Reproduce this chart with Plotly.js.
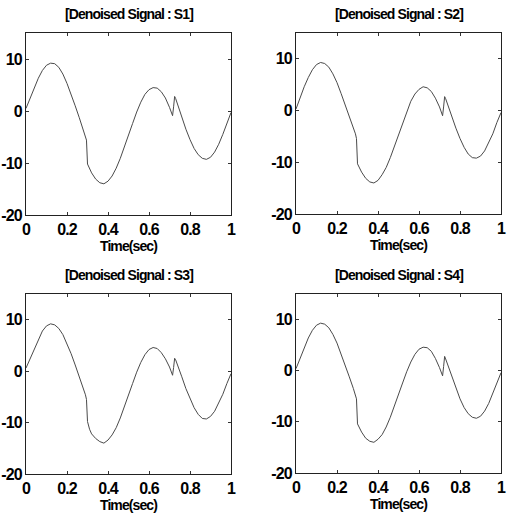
<!DOCTYPE html>
<html><head><meta charset="utf-8">
<script src="https://cdn.plot.ly/plotly-3.0.1.min.js"></script>
<style>html,body{margin:0;padding:0;background:#fff;}#plot{width:507px;height:517px;}
#plot svg text{letter-spacing:-0.9px;}</style>
</head><body><div id="plot"></div>
<script>
// Time samples (sec)
const t = [0,0.02,0.04,0.06,0.08,0.10,0.12,0.14,0.16,0.18,0.20,0.22,0.24,0.26,0.28,0.29,0.295,0.30,0.31,0.32,0.34,0.36,0.38,0.40,0.42,0.44,0.46,0.48,0.50,0.52,0.54,0.56,0.58,0.60,0.62,0.64,0.66,0.68,0.70,0.71,0.715,0.72,0.725,0.73,0.74,0.76,0.78,0.80,0.82,0.84,0.86,0.88,0.90,0.92,0.94,0.96,0.98,1.00];
// Denoised signals
const s1 = [0.5,2.4,4.5,6.3,7.8,8.8,9.2,9.1,8.4,7.1,5.3,3.3,1.0,-1.3,-3.6,-4.7,-5.6,-10.2,-11.0,-11.9,-13.1,-13.8,-14.0,-13.5,-12.5,-11.0,-9.1,-7.0,-4.7,-2.4,-0.2,1.7,3.2,4.1,4.5,4.4,3.7,2.5,0.7,-0.3,-0.9,0.8,2.8,2.4,1.2,-1.2,-3.5,-5.5,-7.2,-8.4,-9.1,-9.3,-8.9,-7.9,-6.4,-4.5,-2.4,-0.3];
const s2 = [0.3,2.5,4.6,6.4,7.9,8.9,9.3,9.1,8.4,7.1,5.4,3.3,1.1,-1.2,-3.4,-4.5,-5.4,-10.3,-11.1,-11.9,-13.1,-13.8,-14.0,-13.5,-12.4,-11.0,-9.1,-6.9,-4.6,-2.3,-0.1,1.8,3.2,4.1,4.6,4.4,3.7,2.4,0.7,-0.4,-1.0,0.7,2.7,2.3,1.1,-1.2,-3.4,-5.4,-7.1,-8.4,-9.1,-9.2,-8.8,-7.8,-6.3,-4.5,-2.3,-0.4];
const s3 = [0.6,2.4,4.5,6.3,7.8,8.8,9.2,9.0,8.3,7.1,5.4,3.4,1.2,-1.1,-3.3,-4.6,-5.5,-9.8,-11.3,-12.2,-13.1,-13.7,-14.0,-13.4,-12.4,-11.0,-9.1,-7.0,-4.7,-2.4,-0.2,1.7,3.2,4.2,4.6,4.4,3.6,2.4,0.8,-0.2,-0.8,0.7,2.5,2.2,1.2,-1.1,-3.4,-5.4,-7.1,-8.4,-9.2,-9.3,-8.8,-7.8,-6.3,-4.5,-2.4,-0.5];
const s4 = [0.4,2.5,4.6,6.4,7.9,8.9,9.3,9.1,8.4,7.1,5.4,3.3,1.1,-1.2,-3.5,-4.6,-5.5,-10.4,-11.2,-12.0,-13.2,-13.8,-14.0,-13.4,-12.5,-11.0,-9.1,-7.0,-4.7,-2.4,-0.2,1.7,3.2,4.2,4.6,4.5,3.8,2.4,0.6,-0.4,-1.0,0.8,2.8,2.3,1.2,-1.2,-3.4,-5.5,-7.2,-8.4,-9.1,-9.3,-8.9,-7.9,-6.4,-4.5,-2.4,-0.4];
const titles = ['[Denoised Signal : S1]','[Denoised Signal : S2]','[Denoised Signal : S3]','[Denoised Signal : S4]'];
const xTickVals = [0,0.2,0.4,0.6,0.8,1];
const xTickText = ['0','0.2','0.4','0.6','0.8','1'];
const yTickVals = [-20,-10,0,10];
const yTickText = ['-20','-10','0','10'];
const xLabel = 'Time(sec)';

const series = [s1,s2,s3,s4];
const W = 507, H = 517;
// plot boxes in pixels [left, top, right, bottom]
const boxes = [[26,33,231,215],[296,33,501,214],[26,294,231,474],[296,294,501,473]];
const FONT = '"Liberation Sans", Arial, sans-serif';
const traces = [];
const layout = {width:W,height:H,margin:{l:0,r:0,t:0,b:0},paper_bgcolor:'#fff',plot_bgcolor:'#fff',showlegend:false,annotations:[]};
series.forEach((s,i)=>{
  const k = i===0?'':String(i+1);
  traces.push({x:t,y:s,type:'scatter',mode:'lines',xaxis:'x'+k,yaxis:'y'+k,line:{color:'#4a4a4a',width:1},hoverinfo:'skip'});
  const b = boxes[i];
  const ax = {domain:[b[0]/W,b[2]/W],range:[0,1],tickvals:xTickVals,ticktext:xTickText,ticks:'inside',ticklen:3,tickcolor:'#333',
    showline:true,linecolor:'#222',linewidth:1,mirror:'ticks',showgrid:false,zeroline:false,anchor:'y'+k,
    tickfont:{family:FONT,size:16,color:'#000',weight:'bold'},
    title:{text:xLabel,font:{family:FONT,size:14,color:'#000',weight:'bold'},standoff:2}};
  const ay = {domain:[1-b[3]/H,1-b[1]/H],range:[-20,15],tickvals:yTickVals,ticktext:yTickText,ticks:'inside',ticklen:3,tickcolor:'#333',
    showline:true,linecolor:'#222',linewidth:1,mirror:'ticks',showgrid:false,zeroline:false,anchor:'x'+k,
    tickfont:{family:FONT,size:16,color:'#000',weight:'bold'}};
  layout['xaxis'+k] = ax;
  layout['yaxis'+k] = ay;
  layout.annotations.push({text:titles[i],xref:'paper',yref:'paper',x:(b[0]+b[2])/2/W,y:1-(b[1]-9)/H,xanchor:'center',yanchor:'bottom',showarrow:false,
    font:{family:FONT,size:14,color:'#000',weight:'bold'}});
});
Plotly.newPlot('plot',traces,layout,{staticPlot:true,displayModeBar:false});
</script></body></html>
